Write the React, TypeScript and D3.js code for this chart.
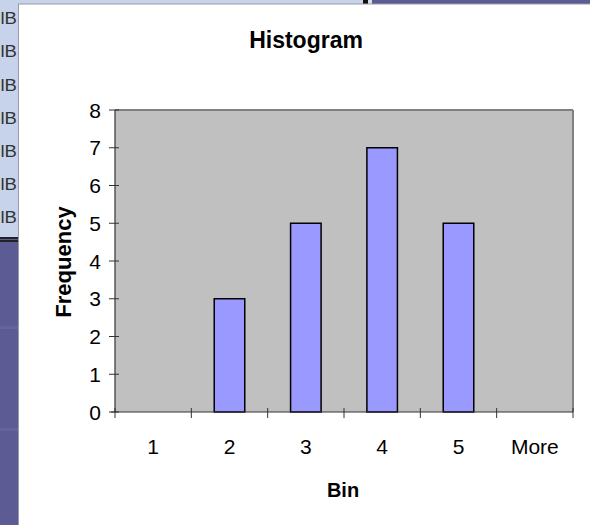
import React from "react";
import * as d3 from "d3";

const categories = ["1", "2", "3", "4", "5", "More"];
const frequency = [0, 3, 5, 7, 5, 0];
const yTicks = [0, 1, 2, 3, 4, 5, 6, 7, 8];
const sideLabels = ["lB", "lB", "lB", "lB", "lB", "lB", "lB"];

const W = 590;
const H = 525;
const FONT = "'Liberation Sans', Arial, sans-serif";

export default function App() {
  const plot = { left: 115, right: 573, top: 110, bottom: 412 };
  const x = d3.scaleBand<string>().domain(categories).range([plot.left, plot.right]).padding(0);
  const y = d3.scaleLinear().domain([0, 8]).range([plot.bottom, plot.top]);
  const bw = x.bandwidth();
  const barW = bw * 0.4;
  const tickXs = categories.map((c) => x(c) as number).concat([plot.right]);

  return (
    <div style={{ position: "fixed", left: 0, top: 0, width: W, height: H }}>
      <svg width={W} height={H} style={{ display: "block" }}>
        {/* background spreadsheet bits */}
        <rect x={0} y={0} width={W} height={H} fill="#5c5b93" />
        <rect x={0} y={0} width={364} height={4} fill="#c6d3ea" />
        <rect x={0} y={0} width={18} height={237} fill="#c6d3ea" />
        <rect x={363} y={0} width={5} height={5} fill="#111" />
        <rect x={368} y={0} width={4} height={5} fill="#d8dbe8" />
        <rect x={0} y={237} width={18} height={2} fill="#222" />
        <rect x={0} y={240} width={18} height={2} fill="#222" />
        <rect x={0} y={326} width={18} height={3} fill="#6a6aa0" opacity={0.6} />
        <rect x={0} y={428} width={18} height={3} fill="#6a6aa0" opacity={0.6} />
        {sideLabels.map((s, i) => (
          <text key={i} x={0.5} y={18 + i * 33.2} dy="0.36em" fontFamily={FONT} fontSize={17} textLength={16.5} lengthAdjust="spacingAndGlyphs" fill="#333">
            {s}
          </text>
        ))}
        {/* chart area */}
        <rect x={18} y={4} width={W - 18} height={H - 4} fill="#ffffff" />
        <line x1={18} y1={4} x2={W} y2={4} stroke="#9a9aa6" strokeWidth={1} />
        <line x1={18.5} y1={4} x2={18.5} y2={H} stroke="#9a9aa6" strokeWidth={1} />

        <text x={306} y={40} dy="0.36em" textAnchor="middle" fontFamily={FONT} fontWeight="bold" fontSize={23} fill="#000">
          Histogram
        </text>

        {/* plot area */}
        <rect x={plot.left} y={plot.top} width={plot.right - plot.left} height={plot.bottom - plot.top} fill="#c0c0c0" />
        <line x1={plot.left} y1={plot.top} x2={plot.right} y2={plot.top} stroke="#808080" strokeWidth={2} />
        <line x1={plot.right} y1={plot.top} x2={plot.right} y2={plot.bottom} stroke="#808080" strokeWidth={2} />

        {categories.map((c, i) => (
          <rect
            key={c}
            x={(x(c) as number) + (bw - barW) / 2}
            y={y(frequency[i])}
            width={barW}
            height={plot.bottom - y(frequency[i])}
            fill="#9999ff"
            stroke="#000"
            strokeWidth={1.5}
          />
        ))}

        {/* axes */}
        <line x1={plot.left} y1={plot.top} x2={plot.left} y2={plot.bottom} stroke="#333" strokeWidth={1.2} />
        <line x1={plot.left - 4} y1={plot.bottom} x2={plot.right} y2={plot.bottom} stroke="#333" strokeWidth={1.2} />
        {yTicks.map((t) => (
          <g key={t}>
            <line x1={plot.left - 6} x2={plot.left + 4} y1={y(t)} y2={y(t)} stroke="#333" strokeWidth={1} />
            <text x={101} y={y(t)} dy="0.36em" textAnchor="end" fontFamily={FONT} fontSize={21} fill="#000">
              {t}
            </text>
          </g>
        ))}
        {tickXs.map((tx, i) => (
          <line key={i} x1={tx} x2={tx} y1={plot.bottom - 4} y2={plot.bottom + 6} stroke="#333" strokeWidth={1} />
        ))}
        {categories.map((c) => (
          <text key={c} x={(x(c) as number) + bw / 2} y={446} dy="0.36em" textAnchor="middle" fontFamily={FONT} fontSize={21} fill="#000">
            {c}
          </text>
        ))}

        <text x={343} y={490} dy="0.36em" textAnchor="middle" fontFamily={FONT} fontWeight="bold" fontSize={20} fill="#000">
          Bin
        </text>
        <text
          transform="translate(63,262) rotate(-90)"
          dy="0.36em"
          textAnchor="middle"
          fontFamily={FONT}
          fontWeight="bold"
          fontSize={22}
          fill="#000"
        >
          Frequency
        </text>
      </svg>
    </div>
  );
}
